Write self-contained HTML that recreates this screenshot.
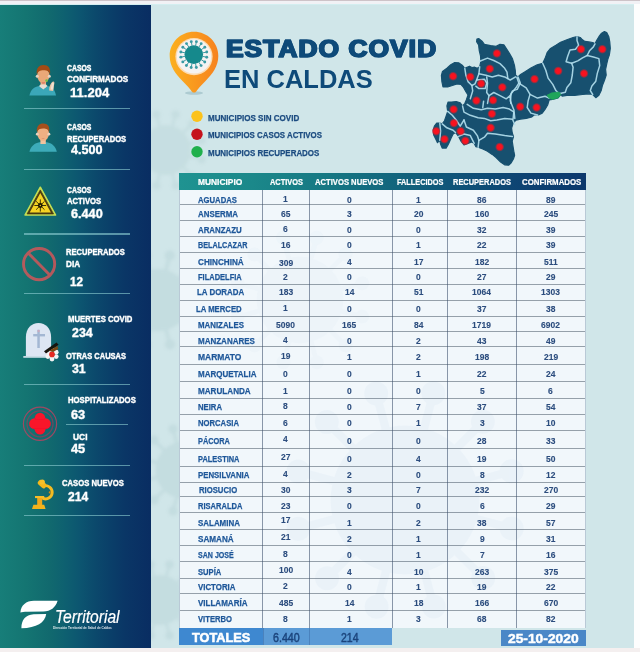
<!DOCTYPE html>
<html><head><meta charset="utf-8"><title>Estado COVID en Caldas</title>
<style>
html,body{margin:0;padding:0}
body{width:640px;height:652px;position:relative;overflow:hidden;background:#fdfdfd;font-family:"Liberation Sans",sans-serif;}
.a{position:absolute}
.t{position:absolute;white-space:nowrap;line-height:1;font-weight:700;transform-origin:0 0;}
svg{position:absolute;overflow:visible}
</style></head><body>
<div class="a" style="left:0.00px;top:0.00px;width:640.00px;height:1.00px;background:#cdc3c8;"></div>
<div class="a" style="left:0.00px;top:1.00px;width:640.00px;height:3.00px;background:#f1f1f5;"></div>
<div class="a" style="left:0.00px;top:4.00px;width:633.50px;height:1.00px;background:#d3eef0;"></div>
<div class="a" style="left:150.50px;top:5.00px;width:483.20px;height:642.60px;background:#d0e6e9;"></div>
<svg style="left:0;top:0" width="640" height="652" viewBox="0 0 640 652"><defs><filter id="b3"><feGaussianBlur stdDeviation="1.5"/></filter><clipPath id="mg"><rect x="150.6" y="5" width="483" height="642.6"/></clipPath></defs><g clip-path="url(#mg)" filter="url(#b3)"><g fill="#a5c4c9" stroke="#a5c4c9" opacity="0.22"><circle cx="166" cy="150" r="24.8" stroke="none"/><line x1="189.2" y1="156.2" x2="201.6" y2="159.5" stroke-width="2.8"/><circle cx="201.6" cy="159.5" r="4.0" stroke="none"/><line x1="183.0" y1="166.9" x2="192.1" y2="176.0" stroke-width="2.8"/><circle cx="192.1" cy="176.0" r="4.0" stroke="none"/><line x1="172.3" y1="173.2" x2="175.6" y2="185.5" stroke-width="2.8"/><circle cx="175.6" cy="185.5" r="4.0" stroke="none"/><line x1="159.8" y1="173.2" x2="156.5" y2="185.6" stroke-width="2.8"/><circle cx="156.5" cy="185.6" r="4.0" stroke="none"/><line x1="149.1" y1="167.0" x2="140.0" y2="176.1" stroke-width="2.8"/><circle cx="140.0" cy="176.1" r="4.0" stroke="none"/><line x1="142.8" y1="156.3" x2="130.5" y2="159.6" stroke-width="2.8"/><circle cx="130.5" cy="159.6" r="4.0" stroke="none"/><line x1="142.8" y1="143.8" x2="130.4" y2="140.5" stroke-width="2.8"/><circle cx="130.4" cy="140.5" r="4.0" stroke="none"/><line x1="149.0" y1="133.1" x2="139.9" y2="124.0" stroke-width="2.8"/><circle cx="139.9" cy="124.0" r="4.0" stroke="none"/><line x1="159.7" y1="126.8" x2="156.4" y2="114.5" stroke-width="2.8"/><circle cx="156.4" cy="114.5" r="4.0" stroke="none"/><line x1="172.2" y1="126.8" x2="175.5" y2="114.4" stroke-width="2.8"/><circle cx="175.5" cy="114.4" r="4.0" stroke="none"/><line x1="182.9" y1="133.0" x2="192.0" y2="123.9" stroke-width="2.8"/><circle cx="192.0" cy="123.9" r="4.0" stroke="none"/><line x1="189.2" y1="143.7" x2="201.5" y2="140.4" stroke-width="2.8"/><circle cx="201.5" cy="140.4" r="4.0" stroke="none"/></g><g fill="#a5c4c9" stroke="#a5c4c9" opacity="0.28"><circle cx="158" cy="300" r="31.0" stroke="none"/><line x1="187.0" y1="307.7" x2="202.5" y2="311.8" stroke-width="3.5"/><circle cx="202.5" cy="311.8" r="5.0" stroke="none"/><line x1="179.3" y1="321.2" x2="190.6" y2="332.5" stroke-width="3.5"/><circle cx="190.6" cy="332.5" r="5.0" stroke="none"/><line x1="165.8" y1="329.0" x2="170.0" y2="344.4" stroke-width="3.5"/><circle cx="170.0" cy="344.4" r="5.0" stroke="none"/><line x1="150.3" y1="329.0" x2="146.2" y2="344.5" stroke-width="3.5"/><circle cx="146.2" cy="344.5" r="5.0" stroke="none"/><line x1="136.8" y1="321.3" x2="125.5" y2="332.6" stroke-width="3.5"/><circle cx="125.5" cy="332.6" r="5.0" stroke="none"/><line x1="129.0" y1="307.8" x2="113.6" y2="312.0" stroke-width="3.5"/><circle cx="113.6" cy="312.0" r="5.0" stroke="none"/><line x1="129.0" y1="292.3" x2="113.5" y2="288.2" stroke-width="3.5"/><circle cx="113.5" cy="288.2" r="5.0" stroke="none"/><line x1="136.7" y1="278.8" x2="125.4" y2="267.5" stroke-width="3.5"/><circle cx="125.4" cy="267.5" r="5.0" stroke="none"/><line x1="150.2" y1="271.0" x2="146.0" y2="255.6" stroke-width="3.5"/><circle cx="146.0" cy="255.6" r="5.0" stroke="none"/><line x1="165.7" y1="271.0" x2="169.8" y2="255.5" stroke-width="3.5"/><circle cx="169.8" cy="255.5" r="5.0" stroke="none"/><line x1="179.2" y1="278.7" x2="190.5" y2="267.4" stroke-width="3.5"/><circle cx="190.5" cy="267.4" r="5.0" stroke="none"/><line x1="187.0" y1="292.2" x2="202.4" y2="288.0" stroke-width="3.5"/><circle cx="202.4" cy="288.0" r="5.0" stroke="none"/></g><g fill="#a5c4c9" stroke="#a5c4c9" opacity="0.28"><circle cx="184" cy="470" r="28.5" stroke="none"/><line x1="210.7" y1="477.1" x2="224.9" y2="480.9" stroke-width="3.2"/><circle cx="224.9" cy="480.9" r="4.6" stroke="none"/><line x1="203.6" y1="489.5" x2="214.0" y2="499.9" stroke-width="3.2"/><circle cx="214.0" cy="499.9" r="4.6" stroke="none"/><line x1="191.2" y1="496.6" x2="195.0" y2="510.9" stroke-width="3.2"/><circle cx="195.0" cy="510.9" r="4.6" stroke="none"/><line x1="176.9" y1="496.7" x2="173.1" y2="510.9" stroke-width="3.2"/><circle cx="173.1" cy="510.9" r="4.6" stroke="none"/><line x1="164.5" y1="489.6" x2="154.1" y2="500.0" stroke-width="3.2"/><circle cx="154.1" cy="500.0" r="4.6" stroke="none"/><line x1="157.4" y1="477.2" x2="143.1" y2="481.0" stroke-width="3.2"/><circle cx="143.1" cy="481.0" r="4.6" stroke="none"/><line x1="157.3" y1="462.9" x2="143.1" y2="459.1" stroke-width="3.2"/><circle cx="143.1" cy="459.1" r="4.6" stroke="none"/><line x1="164.4" y1="450.5" x2="154.0" y2="440.1" stroke-width="3.2"/><circle cx="154.0" cy="440.1" r="4.6" stroke="none"/><line x1="176.8" y1="443.4" x2="173.0" y2="429.1" stroke-width="3.2"/><circle cx="173.0" cy="429.1" r="4.6" stroke="none"/><line x1="191.1" y1="443.3" x2="194.9" y2="429.1" stroke-width="3.2"/><circle cx="194.9" cy="429.1" r="4.6" stroke="none"/><line x1="203.5" y1="450.4" x2="213.9" y2="440.0" stroke-width="3.2"/><circle cx="213.9" cy="440.0" r="4.6" stroke="none"/><line x1="210.6" y1="462.8" x2="224.9" y2="459.0" stroke-width="3.2"/><circle cx="224.9" cy="459.0" r="4.6" stroke="none"/></g><g fill="#a5c4c9" stroke="#a5c4c9" opacity="0.28"><circle cx="160" cy="600" r="24.8" stroke="none"/><line x1="183.2" y1="606.2" x2="195.6" y2="609.5" stroke-width="2.8"/><circle cx="195.6" cy="609.5" r="4.0" stroke="none"/><line x1="177.0" y1="616.9" x2="186.1" y2="626.0" stroke-width="2.8"/><circle cx="186.1" cy="626.0" r="4.0" stroke="none"/><line x1="166.3" y1="623.2" x2="169.6" y2="635.5" stroke-width="2.8"/><circle cx="169.6" cy="635.5" r="4.0" stroke="none"/><line x1="153.8" y1="623.2" x2="150.5" y2="635.6" stroke-width="2.8"/><circle cx="150.5" cy="635.6" r="4.0" stroke="none"/><line x1="143.1" y1="617.0" x2="134.0" y2="626.1" stroke-width="2.8"/><circle cx="134.0" cy="626.1" r="4.0" stroke="none"/><line x1="136.8" y1="606.3" x2="124.5" y2="609.6" stroke-width="2.8"/><circle cx="124.5" cy="609.6" r="4.0" stroke="none"/><line x1="136.8" y1="593.8" x2="124.4" y2="590.5" stroke-width="2.8"/><circle cx="124.4" cy="590.5" r="4.0" stroke="none"/><line x1="143.0" y1="583.1" x2="133.9" y2="574.0" stroke-width="2.8"/><circle cx="133.9" cy="574.0" r="4.0" stroke="none"/><line x1="153.7" y1="576.8" x2="150.4" y2="564.5" stroke-width="2.8"/><circle cx="150.4" cy="564.5" r="4.0" stroke="none"/><line x1="166.2" y1="576.8" x2="169.5" y2="564.4" stroke-width="2.8"/><circle cx="169.5" cy="564.4" r="4.0" stroke="none"/><line x1="176.9" y1="583.0" x2="186.0" y2="573.9" stroke-width="2.8"/><circle cx="186.0" cy="573.9" r="4.0" stroke="none"/><line x1="183.2" y1="593.7" x2="195.5" y2="590.4" stroke-width="2.8"/><circle cx="195.5" cy="590.4" r="4.0" stroke="none"/></g></g></svg>
<div class="a" style="left:0.00px;top:647.60px;width:640.00px;height:4.40px;background:#f4efef;"></div>
<div class="a" style="left:0.00px;top:5.00px;width:150.60px;height:642.60px;background:linear-gradient(90deg,#177e79 0%,#147572 17%,#11696e 33%,#0e6070 43%,#0c5570 53%,#0b496c 63%,#0a3f69 73%,#0a3666 83%,#092d62 100%);"></div>
<div class="a" style="left:24.00px;top:108.10px;width:106.00px;height:1.40px;background:rgba(140,205,210,0.62);"></div>
<div class="a" style="left:24.00px;top:168.50px;width:106.00px;height:1.40px;background:rgba(140,205,210,0.62);"></div>
<div class="a" style="left:24.00px;top:233.30px;width:106.00px;height:1.40px;background:rgba(140,205,210,0.62);"></div>
<div class="a" style="left:24.00px;top:293.00px;width:106.00px;height:1.40px;background:rgba(140,205,210,0.62);"></div>
<div class="a" style="left:24.00px;top:383.80px;width:106.00px;height:1.40px;background:rgba(140,205,210,0.62);"></div>
<div class="a" style="left:24.00px;top:464.70px;width:106.00px;height:1.40px;background:rgba(140,205,210,0.62);"></div>
<div class="a" style="left:24.00px;top:514.70px;width:106.00px;height:1.40px;background:rgba(140,205,210,0.62);"></div>
<div class="a" style="left:65.50px;top:423.70px;width:62.50px;height:1.20px;background:rgba(140,205,210,0.62);"></div>
<span class="t" style="left:66.80px;top:64.00px;font-size:8.84px;color:#ffffff;transform:scaleX(0.7764);-webkit-text-stroke:0.3px #fff;text-shadow:0 0 1.5px rgba(255,255,255,0.35);">CASOS</span>
<span class="t" style="left:66.80px;top:75.00px;font-size:8.70px;color:#ffffff;transform:scaleX(0.9316);-webkit-text-stroke:0.3px #fff;text-shadow:0 0 1.5px rgba(255,255,255,0.35);">CONFIRMADOS</span>
<span class="t" style="left:69.50px;top:86.00px;font-size:13.04px;color:#ffffff;transform:scaleX(1.0027);-webkit-text-stroke:0.3px #fff;text-shadow:0 0 1.5px rgba(255,255,255,0.35);">11.204</span>
<span class="t" style="left:66.80px;top:123.00px;font-size:8.70px;color:#ffffff;transform:scaleX(0.7893);-webkit-text-stroke:0.3px #fff;text-shadow:0 0 1.5px rgba(255,255,255,0.35);">CASOS</span>
<span class="t" style="left:66.80px;top:135.00px;font-size:8.70px;color:#ffffff;transform:scaleX(0.8751);-webkit-text-stroke:0.3px #fff;text-shadow:0 0 1.5px rgba(255,255,255,0.35);">RECUPERADOS</span>
<span class="t" style="left:70.80px;top:144.00px;font-size:12.75px;color:#ffffff;transform:scaleX(0.9922);-webkit-text-stroke:0.3px #fff;text-shadow:0 0 1.5px rgba(255,255,255,0.35);">4.500</span>
<span class="t" style="left:66.80px;top:186.00px;font-size:8.70px;color:#ffffff;transform:scaleX(0.7893);-webkit-text-stroke:0.3px #fff;text-shadow:0 0 1.5px rgba(255,255,255,0.35);">CASOS</span>
<span class="t" style="left:66.80px;top:197.00px;font-size:8.99px;color:#ffffff;transform:scaleX(0.8563);-webkit-text-stroke:0.3px #fff;text-shadow:0 0 1.5px rgba(255,255,255,0.35);">ACTIVOS</span>
<span class="t" style="left:70.80px;top:208.00px;font-size:12.61px;color:#ffffff;transform:scaleX(1.0036);-webkit-text-stroke:0.3px #fff;text-shadow:0 0 1.5px rgba(255,255,255,0.35);">6.440</span>
<span class="t" style="left:65.50px;top:248.00px;font-size:8.99px;color:#ffffff;transform:scaleX(0.8411);-webkit-text-stroke:0.3px #fff;text-shadow:0 0 1.5px rgba(255,255,255,0.35);">RECUPERADOS</span>
<span class="t" style="left:65.50px;top:260.00px;font-size:8.99px;color:#ffffff;transform:scaleX(0.9059);-webkit-text-stroke:0.3px #fff;text-shadow:0 0 1.5px rgba(255,255,255,0.35);">DIA</span>
<span class="t" style="left:69.50px;top:276.00px;font-size:12.75px;color:#ffffff;transform:scaleX(0.9183);-webkit-text-stroke:0.3px #fff;text-shadow:0 0 1.5px rgba(255,255,255,0.35);">12</span>
<span class="t" style="left:68.00px;top:315.00px;font-size:9.28px;color:#ffffff;transform:scaleX(0.8343);-webkit-text-stroke:0.3px #fff;text-shadow:0 0 1.5px rgba(255,255,255,0.35);">MUERTES COVID</span>
<span class="t" style="left:71.80px;top:326.00px;font-size:13.04px;color:#ffffff;transform:scaleX(0.9503);-webkit-text-stroke:0.3px #fff;text-shadow:0 0 1.5px rgba(255,255,255,0.35);">234</span>
<span class="t" style="left:65.50px;top:352.00px;font-size:8.99px;color:#ffffff;transform:scaleX(0.8347);-webkit-text-stroke:0.3px #fff;text-shadow:0 0 1.5px rgba(255,255,255,0.35);">OTRAS CAUSAS</span>
<span class="t" style="left:71.80px;top:363.00px;font-size:12.75px;color:#ffffff;transform:scaleX(0.9678);-webkit-text-stroke:0.3px #fff;text-shadow:0 0 1.5px rgba(255,255,255,0.35);">31</span>
<span class="t" style="left:68.00px;top:396.00px;font-size:8.99px;color:#ffffff;transform:scaleX(0.8614);-webkit-text-stroke:0.3px #fff;text-shadow:0 0 1.5px rgba(255,255,255,0.35);">HOSPITALIZADOS</span>
<span class="t" style="left:70.80px;top:409.00px;font-size:12.90px;color:#ffffff;transform:scaleX(0.9918);-webkit-text-stroke:0.3px #fff;text-shadow:0 0 1.5px rgba(255,255,255,0.35);">63</span>
<span class="t" style="left:72.50px;top:433.00px;font-size:8.99px;color:#ffffff;transform:scaleX(0.9382);-webkit-text-stroke:0.3px #fff;text-shadow:0 0 1.5px rgba(255,255,255,0.35);">UCI</span>
<span class="t" style="left:70.80px;top:443.00px;font-size:12.75px;color:#ffffff;transform:scaleX(1.0031);-webkit-text-stroke:0.3px #fff;text-shadow:0 0 1.5px rgba(255,255,255,0.35);">45</span>
<span class="t" style="left:61.80px;top:479.00px;font-size:9.13px;color:#ffffff;transform:scaleX(0.8403);-webkit-text-stroke:0.3px #fff;text-shadow:0 0 1.5px rgba(255,255,255,0.35);">CASOS NUEVOS</span>
<span class="t" style="left:68.30px;top:491.00px;font-size:12.61px;color:#ffffff;transform:scaleX(0.9593);-webkit-text-stroke:0.3px #fff;text-shadow:0 0 1.5px rgba(255,255,255,0.35);">214</span>
<svg style="left:0;top:0" width="640" height="652" viewBox="0 0 640 652">
<defs>
<filter id="ib"><feGaussianBlur stdDeviation="0.45"/></filter>
<filter id="ib2"><feGaussianBlur stdDeviation="0.8"/></filter>
</defs>
<!-- person 1 (confirmed, raised hand) -->
<g filter="url(#ib)">
<path d="M29.4 95.6 C30.5 89.5 34.5 86.8 39 86 L47.5 86 C52 86.8 55 89.5 56 95.6 Z" fill="#3aa7b8"/>
<rect x="40.6" y="80.5" width="5.4" height="7" fill="#eab08a"/>
<path d="M39 86 L43.3 89.5 L47.5 86 L46 84.5 L40.6 84.5 Z" fill="#e9ddd2"/>
<ellipse cx="43.3" cy="75.6" rx="6.1" ry="7.6" fill="#eaa878"/>
<circle cx="37.3" cy="76.3" r="1.5" fill="#e7d3c2"/><circle cx="49.3" cy="76.3" r="1.5" fill="#e7d3c2"/>
<path d="M36.8 74.5 C36 67.5 39.5 64.8 43.6 64.9 C48.2 65 51 67.8 50 74.5 C49 71.3 47.5 70.2 43.5 70.2 C39.8 70.2 38 71.3 36.8 74.5 Z" fill="#a24c12"/>
<path d="M41.5 82.4 C42.5 84 44.3 84 45.2 82.4 Z" fill="#d9655a"/>
<circle cx="46.6" cy="80.6" r="1.3" fill="#6fbf4a"/>
<path d="M49.2 90.5 C49 86.5 50.5 83.2 52.6 81.8 C54 81 54.8 82.4 54.2 84.2 C53.6 86.3 53.8 88.6 53 91 Z" fill="#e8c3a5"/>
<path d="M51.9 82.6 L53.9 83.1 L53.2 89.5 L50.8 89.5 Z" fill="#f3e7dc" opacity="0.8"/>
</g>
<!-- person 2 (recovered) -->
<g filter="url(#ib)">
<path d="M29.4 151.8 C30.6 146 35 143 39.4 142.2 L47 142.2 C51.5 143 55.6 146 56.8 151.8 Z" fill="#3cabb9"/>
<rect x="40.4" y="138" width="5.4" height="6" fill="#efc39e"/>
<ellipse cx="43.1" cy="133.4" rx="5.9" ry="7.4" fill="#eeb083"/>
<circle cx="37.3" cy="134.2" r="1.4" fill="#ead2bf"/><circle cx="48.9" cy="134.2" r="1.4" fill="#ead2bf"/>
<path d="M36.9 132.2 C36.2 126 39.6 123.5 43.4 123.6 C47.6 123.7 50 126.2 49.1 132.2 C48 129.2 46.8 128.5 43.2 128.5 C39.8 128.5 38 129.3 36.9 132.2 Z" fill="#a5501a"/>
<path d="M41.3 138 C42.3 139 44 139 45 138 Z" fill="#d98a68"/>
</g>
<!-- hazard triangle -->
<g>
<path d="M40.3 187.2 L55.6 215.1 L25 215.1 Z" fill="#c6de52" stroke="#c6de52" stroke-width="1.5" stroke-linejoin="round" filter="url(#ib)"/>
<path d="M40.3 189.9 L53.5 213.9 L27.1 213.9 Z" fill="#4a3a10" stroke="#4a3a10" stroke-width="0.8" stroke-linejoin="round"/>
<path d="M40.3 193 L50.9 212.5 L29.7 212.5 Z" fill="#f6d322"/>
<g stroke="#2a2208" stroke-width="0.9" filter="url(#ib)">
<line x1="40.3" y1="199.4" x2="40.3" y2="211.6"/><line x1="34.4" y1="205.5" x2="46.2" y2="205.5"/>
<line x1="36.1" y1="201.3" x2="44.5" y2="209.7"/><line x1="44.5" y1="201.3" x2="36.1" y2="209.7"/>
<circle cx="40.3" cy="205.5" r="2.4" fill="#1c1606" stroke="none"/>
</g>
<circle cx="40.3" cy="205.5" r="0.7" fill="#e8c828"/>
</g>
<!-- prohibition -->
<g filter="url(#ib)" opacity="0.8">
<circle cx="39.1" cy="264.1" r="15.6" fill="none" stroke="#dd5558" stroke-width="2.9"/>
<line x1="28.2" y1="253" x2="50" y2="275.2" stroke="#dd5558" stroke-width="2.9"/>
</g>
<!-- tombstone -->
<g filter="url(#ib)">
<path d="M25.9 356.6 L25.9 337 C25.9 328.5 31.5 323 38.5 323 C45.5 323 51.1 328.5 51.1 337 L51.1 356.6 Z" fill="#dde6f3"/>
<rect x="23.3" y="356" width="25" height="1.8" fill="#c9dde6"/>
<rect x="37.3" y="329.8" width="2.5" height="18.2" fill="#a3b7d3"/>
<rect x="33.2" y="334" width="11.8" height="2.4" fill="#a3b7d3"/>
<circle cx="38.6" cy="331" r="1.2" fill="#d5a5b8" opacity="0.7"/>
<g fill="#f4f4f4">
<circle cx="52" cy="349.8" r="2.4"/><circle cx="56.2" cy="352.2" r="2.4"/><circle cx="56.2" cy="356.6" r="2.4"/><circle cx="52" cy="359" r="2.4"/><circle cx="47.9" cy="356.6" r="2.4"/><circle cx="47.9" cy="352.2" r="2.4"/>
</g>
<circle cx="52" cy="354.4" r="2.8" fill="#e62a22"/>
<path d="M44 351.2 L56.5 342.6 L58.6 344.8 L46 353.6 Z" fill="#161210"/>
<path d="M49 350.8 L57.5 346 L58.2 349 L53 352 Z" fill="#7a4a18"/>
</g>
<!-- red cross -->
<g>
<circle cx="40" cy="423.8" r="16.6" fill="none" stroke="#c0405f" stroke-width="1.2" opacity="0.8" filter="url(#ib)"/>
<circle cx="40" cy="423.8" r="13" fill="none" stroke="#a83558" stroke-width="1.3" opacity="0.6" filter="url(#ib)"/>
<g fill="#f8122c" filter="url(#ib)">
<circle cx="40" cy="418.2" r="5.4"/><circle cx="40" cy="429.2" r="5.4"/><circle cx="34.5" cy="423.7" r="5.4"/><circle cx="45.5" cy="423.7" r="5.4"/>
<rect x="35.5" y="419.2" width="9" height="9"/>
</g>
</g>
<!-- microscope -->
<g filter="url(#ib)" fill="#f3b71a">
<path d="M43.6 486 A6.6 6.6 0 1 1 43.1 498.4" fill="none" stroke="#f4bb22" stroke-width="2.9" stroke-linecap="round"/>
<rect x="37.4" y="481.3" width="9.4" height="5.6" rx="2.2" transform="rotate(42 42.1 484.1)" fill="#f3b71a"/>
<circle cx="42.3" cy="482" r="2.6" fill="#f5c02c"/>
<rect x="37.2" y="496.8" width="5" height="9" fill="#f0a81c"/>
<rect x="35" y="496" width="9.2" height="2.1" fill="#f5bd2a"/>
<path d="M32 509 L33.4 504.8 L44.2 504.8 L45.6 509 Z" fill="#f2b31c"/>
<circle cx="49.8" cy="492.4" r="1.1" fill="#c98a12"/>
</g>
<!-- Territorial logo -->
<g fill="#ffffff" filter="url(#ib)">
<path d="M20.4 612.4 C21 605.4 26 600.8 34 600.8 L57.6 600.8 C55.6 607.6 50.6 611.4 43.4 611.6 L27.4 611.8 C24 611.9 21.8 612.1 20.4 612.4 Z"/>
<path d="M21.4 628.2 C21.2 620 25.6 614.6 33.6 614.2 L46.2 614 C45 622.4 36.8 628 21.4 628.2 Z"/>
</g>
</svg>
<span class="t" style="left:54.60px;top:608.00px;font-size:18.55px;color:#ffffff;transform:scaleX(0.8433);font-weight:400;font-style:italic;-webkit-text-stroke:0.2px #fff;">Territorial</span>
<span class="t" style="left:52.80px;top:627.00px;font-size:3.10px;color:rgba(255,255,255,0.85);transform:scaleX(1.0049);">Dirección Territorial de Salud de Caldas</span>
<svg style="left:0;top:0" width="640" height="652" viewBox="0 0 640 652">
<defs>
<linearGradient id="pg" x1="0" y1="0" x2="1" y2="0"><stop offset="0" stop-color="#fbb01f"/><stop offset="0.55" stop-color="#f9971f"/><stop offset="1" stop-color="#f6821f"/></linearGradient>
<radialGradient id="rd"><stop offset="0" stop-color="#ff1020"/><stop offset="0.55" stop-color="#f4141f"/><stop offset="1" stop-color="#f4141f" stop-opacity="0"/></radialGradient>
<filter id="b1"><feGaussianBlur stdDeviation="0.6"/></filter>
<filter id="b2"><feGaussianBlur stdDeviation="1.2"/></filter>
</defs>
<ellipse cx="194" cy="93" rx="9" ry="1.8" fill="#9fbfc6" opacity="0.7" filter="url(#b1)"/>
<path d="M194 31.8 C207.5 31.8 218.3 42.6 218.3 56 C218.3 66 212.5 74 205.5 81 C201 85.5 197.8 89.3 196.2 91.4 Q194 93.8 191.8 91.4 C190.2 89.3 187 85.5 182.5 81 C175.5 74 169.7 66 169.7 56 C169.7 42.6 180.5 31.8 194 31.8 Z" fill="url(#pg)"/>
<circle cx="194" cy="56.6" r="18.6" fill="#fcdcb4"/>
<circle cx="194" cy="56.4" r="17.2" fill="#f5f3f2"/>
<g fill="#1f8f90">
<circle cx="193.8" cy="54.6" r="9.3" fill="#15898c"/>

<circle cx="206.74" cy="57.22" r="1.45" fill="#3a9aa3"/>
<line x1="202.13" y1="56.29" x2="206.74" y2="57.22" stroke="#3a9aa3" stroke-width="1.0"/>
<circle cx="204.75" cy="61.97" r="1.45" fill="#3a9aa3"/>
<line x1="200.85" y1="59.35" x2="204.75" y2="61.97" stroke="#3a9aa3" stroke-width="1.0"/>
<circle cx="201.09" cy="65.60" r="1.45" fill="#3a9aa3"/>
<line x1="198.50" y1="61.68" x2="201.09" y2="65.60" stroke="#3a9aa3" stroke-width="1.0"/>
<circle cx="196.33" cy="67.56" r="1.45" fill="#3a9aa3"/>
<line x1="195.43" y1="62.94" x2="196.33" y2="67.56" stroke="#3a9aa3" stroke-width="1.0"/>
<circle cx="191.18" cy="67.54" r="1.45" fill="#3a9aa3"/>
<line x1="192.11" y1="62.93" x2="191.18" y2="67.54" stroke="#3a9aa3" stroke-width="1.0"/>
<circle cx="186.43" cy="65.55" r="1.45" fill="#3a9aa3"/>
<line x1="189.05" y1="61.65" x2="186.43" y2="65.55" stroke="#3a9aa3" stroke-width="1.0"/>
<circle cx="182.80" cy="61.89" r="1.45" fill="#3a9aa3"/>
<line x1="186.72" y1="59.30" x2="182.80" y2="61.89" stroke="#3a9aa3" stroke-width="1.0"/>
<circle cx="180.84" cy="57.13" r="1.45" fill="#3a9aa3"/>
<line x1="185.46" y1="56.23" x2="180.84" y2="57.13" stroke="#3a9aa3" stroke-width="1.0"/>
<circle cx="180.86" cy="51.98" r="1.45" fill="#3a9aa3"/>
<line x1="185.47" y1="52.91" x2="180.86" y2="51.98" stroke="#3a9aa3" stroke-width="1.0"/>
<circle cx="182.85" cy="47.23" r="1.45" fill="#3a9aa3"/>
<line x1="186.75" y1="49.85" x2="182.85" y2="47.23" stroke="#3a9aa3" stroke-width="1.0"/>
<circle cx="186.51" cy="43.60" r="1.45" fill="#3a9aa3"/>
<line x1="189.10" y1="47.52" x2="186.51" y2="43.60" stroke="#3a9aa3" stroke-width="1.0"/>
<circle cx="191.27" cy="41.64" r="1.45" fill="#3a9aa3"/>
<line x1="192.17" y1="46.26" x2="191.27" y2="41.64" stroke="#3a9aa3" stroke-width="1.0"/>
<circle cx="196.42" cy="41.66" r="1.45" fill="#3a9aa3"/>
<line x1="195.49" y1="46.27" x2="196.42" y2="41.66" stroke="#3a9aa3" stroke-width="1.0"/>
<circle cx="201.17" cy="43.65" r="1.45" fill="#3a9aa3"/>
<line x1="198.55" y1="47.55" x2="201.17" y2="43.65" stroke="#3a9aa3" stroke-width="1.0"/>
<circle cx="204.80" cy="47.31" r="1.45" fill="#3a9aa3"/>
<line x1="200.88" y1="49.90" x2="204.80" y2="47.31" stroke="#3a9aa3" stroke-width="1.0"/>
<circle cx="206.76" cy="52.07" r="1.45" fill="#3a9aa3"/>
<line x1="202.14" y1="52.97" x2="206.76" y2="52.07" stroke="#3a9aa3" stroke-width="1.0"/>
</g></svg>
<span class="t" style="left:225.60px;top:38.00px;font-size:23.60px;color:#0e4a79;transform:scaleX(1.1125);letter-spacing:1.0px;-webkit-text-stroke:1.5px #0e4a79;paint-order:stroke fill;text-shadow:0.8px 0 0 #0e4a79,-0.8px 0 0 #0e4a79;">ESTADO COVID</span>
<span class="t" style="left:224.30px;top:67.00px;font-size:24.90px;color:#0e4a79;transform:scaleX(1.0248);">EN CALDAS</span>
<svg style="left:0;top:0" width="640" height="652" viewBox="0 0 640 652">
<circle cx="197" cy="116.3" r="5.7" fill="#fcc21b"/>
<circle cx="197" cy="134.3" r="5.7" fill="#c5121c"/>
<circle cx="197" cy="151.8" r="5.7" fill="#20b04c"/>
</svg>
<span class="t" style="left:208.00px;top:114.00px;font-size:8.99px;color:#1c4c80;transform:scaleX(0.8964);-webkit-text-stroke:0.25px #1c4c80;">MUNICIPIOS SIN COVID</span>
<span class="t" style="left:208.00px;top:131.00px;font-size:8.99px;color:#1c4c80;transform:scaleX(0.8771);-webkit-text-stroke:0.25px #1c4c80;">MUNICIPIOS CASOS ACTIVOS</span>
<span class="t" style="left:208.00px;top:149.00px;font-size:8.84px;color:#1c4c80;transform:scaleX(0.9009);-webkit-text-stroke:0.25px #1c4c80;">MUNICIPIOS RECUPERADOS</span>
<svg style="left:0;top:0" width="640" height="652" viewBox="0 0 640 652"><polygon points="476.9,39.1 478.9,38.6 482.0,41.2 484.4,44.4 490.6,45.6 496.1,46.4 500.0,44.4 503.9,44.8 507.0,49.5 509.4,53.4 512.5,58.9 514.4,65.2 515.3,70.6 515.6,75.3 518.0,76.9 520.6,74.5 524.7,71.9 530.9,68.0 537.2,64.8 542.7,63.3 545.0,58.6 547.3,52.3 550.5,48.4 555.9,45.3 560.6,42.2 566.9,39.8 573.1,37.5 577.0,36.7 580.2,37.5 582.5,39.8 584.8,41.4 588.8,41.9 592.7,42.5 595.0,43.8 596.6,40.6 598.9,36.7 601.2,33.6 604.4,31.6 606.7,32.5 608.8,36.7 609.8,42.2 610.3,48.4 609.4,54.7 607.8,59.4 606.7,64.1 605.6,69.5 606.2,75.0 604.4,80.5 602.5,85.2 601.2,90.6 598.9,95.3 595.8,97.7 592.7,94.5 588.8,93.8 582.5,94.5 574.7,95.3 566.9,95.3 562.2,96.1 560.9,94.4 558.1,97.8 552.5,99.4 549.1,100.0 547.8,104.7 545.0,109.4 542.2,113.1 538.4,115.0 534.7,114.6 531.9,116.9 526.2,118.4 520.6,119.1 515.9,120.2 513.1,123.4 511.6,128.1 512.2,132.8 513.5,136.6 512.2,141.2 513.1,146.9 514.0,152.5 514.6,155.2 513.4,159.0 511.2,162.8 508.6,165.2 504.6,164.8 500.6,162.0 496.1,157.5 492.2,154.4 487.5,151.2 482.8,148.9 478.1,147.3 475.8,146.6 474.2,143.4 471.9,141.9 468.0,143.4 464.0,145.0 460.9,141.1 458.6,136.4 455.5,132.5 453.1,134.1 450.8,138.8 448.4,144.2 446.1,148.1 442.2,148.1 440.6,144.2 439.8,140.3 437.5,142.7 435.6,138.8 433.6,134.8 433.1,130.2 434.4,126.2 436.7,123.1 439.8,123.1 442.2,123.9 444.5,120.8 446.1,116.1 447.7,111.4 446.9,105.9 448.1,102.0 451.6,102.0 456.2,101.6 460.2,102.8 462.5,105.9 464.8,103.6 466.4,99.7 468.0,95.0 465.9,91.7 463.3,87.0 460.9,84.4 457.0,83.9 452.3,85.5 447.7,87.0 443.0,87.0 441.9,81.6 441.4,75.3 442.5,71.4 446.9,68.3 450.8,64.7 454.7,62.5 458.6,62.8 462.2,65.2 464.8,68.3 466.4,67.5 469.5,66.2 471.9,67.5 474.7,67.2 477.3,68.3 479.7,66.7 480.9,61.2 480.5,55.8 479.2,50.3 478.6,44.8 476.6,41.7" fill="#17506f" stroke="#17506f" stroke-width="1.2" stroke-linejoin="round"/><polyline points="479.7,61.2 487.5,58.1 493.8,60.5 500.0,63.6 504.7,68.3 507.0,72.2 507.8,78.4" fill="none" stroke="#b4e0ee" stroke-width="1.5" stroke-linejoin="round" stroke-linecap="round" opacity="0.9"/><polyline points="479.7,66.7 478.9,73.8 485.9,75.3 492.2,76.9 498.4,75.3 504.7,76.9 510.2,80.0 515.6,76.9" fill="none" stroke="#b4e0ee" stroke-width="1.5" stroke-linejoin="round" stroke-linecap="round" opacity="0.9"/><polyline points="464.8,68.3 465.9,75.3 468.0,81.6 471.9,85.5 475.0,83.9 476.6,80.0 478.9,73.8" fill="none" stroke="#b4e0ee" stroke-width="1.5" stroke-linejoin="round" stroke-linecap="round" opacity="0.9"/><polyline points="476.6,80.0 484.4,79.2 486.7,83.1 485.2,88.6 478.9,88.6 475.8,86.2" fill="none" stroke="#b4e0ee" stroke-width="1.5" stroke-linejoin="round" stroke-linecap="round" opacity="0.9"/><polyline points="486.7,76.9 487.5,83.1 486.7,92.5 489.0,95.6 487.5,103.4" fill="none" stroke="#b4e0ee" stroke-width="1.5" stroke-linejoin="round" stroke-linecap="round" opacity="0.9"/><polyline points="489.0,95.6 493.8,92.5 500.0,95.6 506.2,98.8 510.2,95.6 510.9,103.4" fill="none" stroke="#b4e0ee" stroke-width="1.5" stroke-linejoin="round" stroke-linecap="round" opacity="0.9"/><polyline points="510.2,95.6 512.5,90.9 517.2,89.4 520.3,83.1 518.0,76.9" fill="none" stroke="#b4e0ee" stroke-width="1.5" stroke-linejoin="round" stroke-linecap="round" opacity="0.9"/><polyline points="471.9,85.5 472.7,90.9 470.3,98.8" fill="none" stroke="#b4e0ee" stroke-width="1.5" stroke-linejoin="round" stroke-linecap="round" opacity="0.9"/><polyline points="462.5,105.9 464.0,112.2 470.3,115.3 478.1,117.7 484.4,118.4 490.6,120.8 496.9,120.0 504.7,118.4 512.5,119.2 514.8,124.7" fill="none" stroke="#b4e0ee" stroke-width="1.5" stroke-linejoin="round" stroke-linecap="round" opacity="0.9"/><polyline points="467.2,104.4 473.4,108.3 481.2,109.8 487.5,108.3 495.3,109.1 503.1,107.5 509.4,109.1 514.1,112.2 514.8,118.4" fill="none" stroke="#b4e0ee" stroke-width="1.5" stroke-linejoin="round" stroke-linecap="round" opacity="0.9"/><polyline points="483.6,101.2 482.8,107.5" fill="none" stroke="#b4e0ee" stroke-width="1.5" stroke-linejoin="round" stroke-linecap="round" opacity="0.9"/><polyline points="464.0,120.0 466.4,127.0 473.4,130.2 477.3,135.6 478.9,140.3 478.1,147.3" fill="none" stroke="#b4e0ee" stroke-width="1.5" stroke-linejoin="round" stroke-linecap="round" opacity="0.9"/><polyline points="478.9,140.3 484.4,137.2 487.5,133.3 495.3,134.1 504.7,135.6 512.5,136.4" fill="none" stroke="#b4e0ee" stroke-width="1.5" stroke-linejoin="round" stroke-linecap="round" opacity="0.9"/><polyline points="447.7,111.4 452.3,115.3 456.2,120.0 460.2,126.2 464.0,120.0" fill="none" stroke="#b4e0ee" stroke-width="1.5" stroke-linejoin="round" stroke-linecap="round" opacity="0.9"/><polyline points="442.2,123.9 446.9,127.8 453.1,130.2 455.5,132.5" fill="none" stroke="#b4e0ee" stroke-width="1.5" stroke-linejoin="round" stroke-linecap="round" opacity="0.9"/><polyline points="439.8,123.1 440.6,131.0 439.8,140.3" fill="none" stroke="#b4e0ee" stroke-width="1.5" stroke-linejoin="round" stroke-linecap="round" opacity="0.9"/><polyline points="458.6,136.4 464.0,134.0 470.3,135.6 474.2,143.4" fill="none" stroke="#b4e0ee" stroke-width="1.5" stroke-linejoin="round" stroke-linecap="round" opacity="0.9"/><polyline points="542.7,63.3 545.8,70.3 548.1,78.1 552.8,84.4 555.9,90.6 559.0,93.8 565.3,92.2 566.9,87.5 570.8,82.8 572.3,75.0 573.1,67.2 571.6,63.3 566.1,61.7 567.7,56.2 570.0,50.0 575.5,49.2 578.6,45.3 577.0,40.6 577.0,36.7" fill="none" stroke="#b4e0ee" stroke-width="1.5" stroke-linejoin="round" stroke-linecap="round" opacity="0.9"/><polyline points="571.6,63.3 577.8,60.9 582.5,57.8 587.2,55.5 593.4,57.0 598.9,58.6 599.7,65.6 597.3,73.4 595.8,81.2 591.9,85.9 590.3,90.6 592.7,94.5" fill="none" stroke="#b4e0ee" stroke-width="1.5" stroke-linejoin="round" stroke-linecap="round" opacity="0.9"/><polyline points="587.2,55.5 589.5,50.8 593.4,46.9 595.0,43.8" fill="none" stroke="#b4e0ee" stroke-width="1.5" stroke-linejoin="round" stroke-linecap="round" opacity="0.9"/><polyline points="516.9,77.5 518.8,83.1 515.9,87.8 511.2,93.4 510.3,100.9 514.0,110.3 513.1,118.8" fill="none" stroke="#b4e0ee" stroke-width="1.5" stroke-linejoin="round" stroke-linecap="round" opacity="0.9"/><polyline points="518.8,83.1 526.2,87.8 530.0,94.4 528.1,100.9 527.2,107.5 530.9,113.1 537.5,115.0" fill="none" stroke="#b4e0ee" stroke-width="1.5" stroke-linejoin="round" stroke-linecap="round" opacity="0.9"/><polyline points="530.0,94.4 537.5,98.1 545.0,96.2 549.1,98.1" fill="none" stroke="#b4e0ee" stroke-width="1.5" stroke-linejoin="round" stroke-linecap="round" opacity="0.9"/><polygon points="546.9,95.3 551.6,92.9 559.1,92.1 560.9,94.4 558.1,97.8 552.5,99.4 549.1,98.1" fill="#1fa55a" stroke="#1fa55a" stroke-width="0.8"/><circle cx="496.9" cy="53.4" r="4.7" fill="url(#rd)"/><circle cx="489.8" cy="68.8" r="4.7" fill="url(#rd)"/><circle cx="453.1" cy="76.2" r="4.7" fill="url(#rd)"/><circle cx="470.3" cy="76.9" r="4.7" fill="url(#rd)"/><circle cx="481.2" cy="83.6" r="4.7" fill="url(#rd)"/><circle cx="502.3" cy="87.3" r="4.7" fill="url(#rd)"/><circle cx="476.4" cy="100.6" r="4.7" fill="url(#rd)"/><circle cx="493.0" cy="100.2" r="4.7" fill="url(#rd)"/><circle cx="453.6" cy="109.4" r="4.7" fill="url(#rd)"/><circle cx="491.9" cy="113.8" r="4.7" fill="url(#rd)"/><circle cx="453.9" cy="123.1" r="4.7" fill="url(#rd)"/><circle cx="490.6" cy="127.8" r="4.7" fill="url(#rd)"/><circle cx="460.6" cy="131.2" r="4.7" fill="url(#rd)"/><circle cx="436.2" cy="131.2" r="4.7" fill="url(#rd)"/><circle cx="444.5" cy="139.2" r="4.7" fill="url(#rd)"/><circle cx="465.3" cy="140.8" r="4.7" fill="url(#rd)"/><circle cx="499.7" cy="147.0" r="4.7" fill="url(#rd)"/><circle cx="520.2" cy="106.7" r="4.7" fill="url(#rd)"/><circle cx="536.6" cy="107.5" r="4.7" fill="url(#rd)"/><circle cx="534.5" cy="79.1" r="4.7" fill="url(#rd)"/><circle cx="558.2" cy="70.9" r="4.7" fill="url(#rd)"/><circle cx="581.0" cy="49.2" r="4.7" fill="url(#rd)"/><circle cx="602.3" cy="49.2" r="4.7" fill="url(#rd)"/><circle cx="584.0" cy="73.5" r="4.7" fill="url(#rd)"/></svg>
<div class="a" style="left:179.00px;top:189.80px;width:406.80px;height:437.80px;background:#f1f7fb;"></div>
<svg style="left:0;top:0" width="640" height="652" viewBox="0 0 640 652"><defs><clipPath id="tb"><rect x="179" y="190" width="406.8" height="437.6"/></clipPath></defs><g clip-path="url(#tb)"><g fill="#dde9f4" stroke="#dde9f4" opacity="0.32"><circle cx="405" cy="500" r="74.4" stroke="none"/><line x1="474.6" y1="518.5" x2="511.7" y2="528.4" stroke-width="8.4"/><circle cx="511.7" cy="528.4" r="12.0" stroke="none"/><line x1="456.0" y1="550.8" x2="483.2" y2="577.9" stroke-width="8.4"/><circle cx="483.2" cy="577.9" r="12.0" stroke="none"/><line x1="423.8" y1="569.5" x2="433.8" y2="606.6" stroke-width="8.4"/><circle cx="433.8" cy="606.6" r="12.0" stroke="none"/><line x1="386.5" y1="569.6" x2="376.6" y2="606.7" stroke-width="8.4"/><circle cx="376.6" cy="606.7" r="12.0" stroke="none"/><line x1="354.2" y1="551.0" x2="327.1" y2="578.2" stroke-width="8.4"/><circle cx="327.1" cy="578.2" r="12.0" stroke="none"/><line x1="335.5" y1="518.8" x2="298.4" y2="528.8" stroke-width="8.4"/><circle cx="298.4" cy="528.8" r="12.0" stroke="none"/><line x1="335.4" y1="481.5" x2="298.3" y2="471.6" stroke-width="8.4"/><circle cx="298.3" cy="471.6" r="12.0" stroke="none"/><line x1="354.0" y1="449.2" x2="326.8" y2="422.1" stroke-width="8.4"/><circle cx="326.8" cy="422.1" r="12.0" stroke="none"/><line x1="386.2" y1="430.5" x2="376.2" y2="393.4" stroke-width="8.4"/><circle cx="376.2" cy="393.4" r="12.0" stroke="none"/><line x1="423.5" y1="430.4" x2="433.4" y2="393.3" stroke-width="8.4"/><circle cx="433.4" cy="393.3" r="12.0" stroke="none"/><line x1="455.8" y1="449.0" x2="482.9" y2="421.8" stroke-width="8.4"/><circle cx="482.9" cy="421.8" r="12.0" stroke="none"/><line x1="474.5" y1="481.2" x2="511.6" y2="471.2" stroke-width="8.4"/><circle cx="511.6" cy="471.2" r="12.0" stroke="none"/></g><g fill="#e2edf6" stroke="#e2edf6" opacity="0.25"><circle cx="300" cy="300" r="43.4" stroke="none"/><line x1="340.6" y1="310.8" x2="362.2" y2="316.6" stroke-width="4.9"/><circle cx="362.2" cy="316.6" r="7.0" stroke="none"/><line x1="329.8" y1="329.6" x2="345.6" y2="345.5" stroke-width="4.9"/><circle cx="345.6" cy="345.5" r="7.0" stroke="none"/><line x1="310.9" y1="340.5" x2="316.8" y2="362.2" stroke-width="4.9"/><circle cx="316.8" cy="362.2" r="7.0" stroke="none"/><line x1="289.2" y1="340.6" x2="283.4" y2="362.2" stroke-width="4.9"/><circle cx="283.4" cy="362.2" r="7.0" stroke="none"/><line x1="270.4" y1="329.8" x2="254.5" y2="345.6" stroke-width="4.9"/><circle cx="254.5" cy="345.6" r="7.0" stroke="none"/><line x1="259.5" y1="310.9" x2="237.8" y2="316.8" stroke-width="4.9"/><circle cx="237.8" cy="316.8" r="7.0" stroke="none"/><line x1="259.4" y1="289.2" x2="237.8" y2="283.4" stroke-width="4.9"/><circle cx="237.8" cy="283.4" r="7.0" stroke="none"/><line x1="270.2" y1="270.4" x2="254.4" y2="254.5" stroke-width="4.9"/><circle cx="254.4" cy="254.5" r="7.0" stroke="none"/><line x1="289.1" y1="259.5" x2="283.2" y2="237.8" stroke-width="4.9"/><circle cx="283.2" cy="237.8" r="7.0" stroke="none"/><line x1="310.8" y1="259.4" x2="316.6" y2="237.8" stroke-width="4.9"/><circle cx="316.6" cy="237.8" r="7.0" stroke="none"/><line x1="329.6" y1="270.2" x2="345.5" y2="254.4" stroke-width="4.9"/><circle cx="345.5" cy="254.4" r="7.0" stroke="none"/><line x1="340.5" y1="289.1" x2="362.2" y2="283.2" stroke-width="4.9"/><circle cx="362.2" cy="283.2" r="7.0" stroke="none"/></g></g></svg>
<div class="a" style="left:179.00px;top:173.40px;width:406.80px;height:16.60px;background:linear-gradient(90deg,#1f9391 0%,#1b888a 18%,#167883 36%,#12647d 54%,#0f4f77 72%,#0d4071 88%,#0c386c 100%);"></div>
<div class="a" style="left:179.00px;top:204.00px;width:406.80px;height:1.00px;background:rgba(66,80,96,0.52);"></div>
<div class="a" style="left:179.00px;top:220.00px;width:406.80px;height:1.00px;background:rgba(66,80,96,0.52);"></div>
<div class="a" style="left:179.00px;top:236.00px;width:406.80px;height:1.00px;background:rgba(66,80,96,0.52);"></div>
<div class="a" style="left:179.00px;top:252.00px;width:406.80px;height:1.00px;background:rgba(66,80,96,0.52);"></div>
<div class="a" style="left:179.00px;top:268.00px;width:406.80px;height:1.00px;background:rgba(66,80,96,0.52);"></div>
<div class="a" style="left:179.00px;top:284.00px;width:406.80px;height:1.00px;background:rgba(66,80,96,0.52);"></div>
<div class="a" style="left:179.00px;top:300.00px;width:406.80px;height:1.00px;background:rgba(66,80,96,0.52);"></div>
<div class="a" style="left:179.00px;top:316.00px;width:406.80px;height:1.00px;background:rgba(66,80,96,0.52);"></div>
<div class="a" style="left:179.00px;top:331.00px;width:406.80px;height:1.00px;background:rgba(66,80,96,0.52);"></div>
<div class="a" style="left:179.00px;top:346.00px;width:406.80px;height:1.00px;background:rgba(66,80,96,0.52);"></div>
<div class="a" style="left:179.00px;top:364.00px;width:406.80px;height:1.00px;background:rgba(66,80,96,0.52);"></div>
<div class="a" style="left:179.00px;top:381.00px;width:406.80px;height:1.00px;background:rgba(66,80,96,0.52);"></div>
<div class="a" style="left:179.00px;top:398.00px;width:406.80px;height:1.00px;background:rgba(66,80,96,0.52);"></div>
<div class="a" style="left:179.00px;top:414.00px;width:406.80px;height:1.00px;background:rgba(66,80,96,0.52);"></div>
<div class="a" style="left:179.00px;top:430.00px;width:406.80px;height:1.00px;background:rgba(66,80,96,0.52);"></div>
<div class="a" style="left:179.00px;top:448.00px;width:406.80px;height:1.00px;background:rgba(66,80,96,0.52);"></div>
<div class="a" style="left:179.00px;top:466.00px;width:406.80px;height:1.00px;background:rgba(66,80,96,0.52);"></div>
<div class="a" style="left:179.00px;top:482.00px;width:406.80px;height:1.00px;background:rgba(66,80,96,0.52);"></div>
<div class="a" style="left:179.00px;top:496.00px;width:406.80px;height:1.00px;background:rgba(66,80,96,0.52);"></div>
<div class="a" style="left:179.00px;top:512.00px;width:406.80px;height:1.00px;background:rgba(66,80,96,0.52);"></div>
<div class="a" style="left:179.00px;top:529.00px;width:406.80px;height:1.00px;background:rgba(66,80,96,0.52);"></div>
<div class="a" style="left:179.00px;top:545.00px;width:406.80px;height:1.00px;background:rgba(66,80,96,0.52);"></div>
<div class="a" style="left:179.00px;top:561.00px;width:406.80px;height:1.00px;background:rgba(66,80,96,0.52);"></div>
<div class="a" style="left:179.00px;top:578.00px;width:406.80px;height:1.00px;background:rgba(66,80,96,0.52);"></div>
<div class="a" style="left:179.00px;top:593.00px;width:406.80px;height:1.00px;background:rgba(66,80,96,0.52);"></div>
<div class="a" style="left:179.00px;top:610.00px;width:406.80px;height:1.00px;background:rgba(66,80,96,0.52);"></div>
<div class="a" style="left:262.00px;top:189.80px;width:1.00px;height:437.80px;background:rgba(60,80,108,0.58);"></div>
<div class="a" style="left:309.00px;top:189.80px;width:1.00px;height:437.80px;background:rgba(60,80,108,0.58);"></div>
<div class="a" style="left:392.00px;top:189.80px;width:1.00px;height:437.80px;background:rgba(60,80,108,0.58);"></div>
<div class="a" style="left:447.00px;top:189.80px;width:1.00px;height:437.80px;background:rgba(60,80,108,0.58);"></div>
<div class="a" style="left:516.00px;top:189.80px;width:1.00px;height:437.80px;background:rgba(60,80,108,0.58);"></div>
<div class="a" style="left:178.70px;top:189.80px;width:0.80px;height:437.80px;background:#b9c9d6;"></div>
<div class="a" style="left:585.30px;top:189.80px;width:0.80px;height:437.80px;background:#b9c9d6;"></div>
<span class="t" style="left:198.00px;top:178.00px;font-size:8.41px;color:#ffffff;transform:scaleX(0.9981);-webkit-text-stroke:0.22px #fff;">MUNICIPIO</span>
<span class="t" style="left:269.50px;top:178.00px;font-size:8.41px;color:#ffffff;transform:scaleX(0.8805);-webkit-text-stroke:0.22px #fff;">ACTIVOS</span>
<span class="t" style="left:315.40px;top:178.00px;font-size:8.41px;color:#ffffff;transform:scaleX(0.9097);-webkit-text-stroke:0.22px #fff;">ACTIVOS NUEVOS</span>
<span class="t" style="left:397.00px;top:178.00px;font-size:8.41px;color:#ffffff;transform:scaleX(0.8713);-webkit-text-stroke:0.22px #fff;">FALLECIDOS</span>
<span class="t" style="left:452.80px;top:178.00px;font-size:8.41px;color:#ffffff;transform:scaleX(0.8854);-webkit-text-stroke:0.22px #fff;">RECUPERADOS</span>
<span class="t" style="left:521.60px;top:178.00px;font-size:8.41px;color:#ffffff;transform:scaleX(0.9338);-webkit-text-stroke:0.22px #fff;">CONFIRMADOS</span>
<span class="t" style="left:198.00px;top:196.00px;font-size:8.84px;color:#1e5799;transform:scaleX(0.8727);-webkit-text-stroke:0.25px #1e5799;">AGUADAS</span>
<span class="t" style="left:283.44px;top:195.00px;font-size:8.84px;color:#2c4d7e;transform:scaleX(0.9600);-webkit-text-stroke:0.12px #2c4d7e;">1</span>
<span class="t" style="left:347.04px;top:196.00px;font-size:8.84px;color:#2c4d7e;transform:scaleX(0.9600);-webkit-text-stroke:0.12px #2c4d7e;">0</span>
<span class="t" style="left:415.94px;top:196.00px;font-size:8.84px;color:#2c4d7e;transform:scaleX(0.9600);-webkit-text-stroke:0.12px #2c4d7e;">1</span>
<span class="t" style="left:477.19px;top:196.00px;font-size:8.84px;color:#2c4d7e;transform:scaleX(0.9600);-webkit-text-stroke:0.12px #2c4d7e;">86</span>
<span class="t" style="left:546.09px;top:196.00px;font-size:8.84px;color:#2c4d7e;transform:scaleX(0.9600);-webkit-text-stroke:0.12px #2c4d7e;">89</span>
<span class="t" style="left:198.00px;top:210.00px;font-size:8.84px;color:#1e5799;transform:scaleX(0.8951);-webkit-text-stroke:0.25px #1e5799;">ANSERMA</span>
<span class="t" style="left:281.09px;top:210.00px;font-size:8.84px;color:#2c4d7e;transform:scaleX(0.9600);-webkit-text-stroke:0.12px #2c4d7e;">65</span>
<span class="t" style="left:347.04px;top:210.00px;font-size:8.84px;color:#2c4d7e;transform:scaleX(0.9600);-webkit-text-stroke:0.12px #2c4d7e;">3</span>
<span class="t" style="left:413.59px;top:210.00px;font-size:8.84px;color:#2c4d7e;transform:scaleX(0.9600);-webkit-text-stroke:0.12px #2c4d7e;">20</span>
<span class="t" style="left:474.81px;top:210.00px;font-size:8.84px;color:#2c4d7e;transform:scaleX(0.9600);-webkit-text-stroke:0.12px #2c4d7e;">160</span>
<span class="t" style="left:543.71px;top:210.00px;font-size:8.84px;color:#2c4d7e;transform:scaleX(0.9600);-webkit-text-stroke:0.12px #2c4d7e;">245</span>
<span class="t" style="left:198.00px;top:226.00px;font-size:8.84px;color:#1e5799;transform:scaleX(0.8919);-webkit-text-stroke:0.25px #1e5799;">ARANZAZU</span>
<span class="t" style="left:283.44px;top:225.00px;font-size:8.84px;color:#2c4d7e;transform:scaleX(0.9600);-webkit-text-stroke:0.12px #2c4d7e;">6</span>
<span class="t" style="left:347.04px;top:226.00px;font-size:8.84px;color:#2c4d7e;transform:scaleX(0.9600);-webkit-text-stroke:0.12px #2c4d7e;">0</span>
<span class="t" style="left:415.94px;top:226.00px;font-size:8.84px;color:#2c4d7e;transform:scaleX(0.9600);-webkit-text-stroke:0.12px #2c4d7e;">0</span>
<span class="t" style="left:477.19px;top:226.00px;font-size:8.84px;color:#2c4d7e;transform:scaleX(0.9600);-webkit-text-stroke:0.12px #2c4d7e;">32</span>
<span class="t" style="left:546.09px;top:226.00px;font-size:8.84px;color:#2c4d7e;transform:scaleX(0.9600);-webkit-text-stroke:0.12px #2c4d7e;">39</span>
<span class="t" style="left:198.00px;top:241.00px;font-size:8.84px;color:#1e5799;transform:scaleX(0.8192);-webkit-text-stroke:0.25px #1e5799;">BELALCAZAR</span>
<span class="t" style="left:281.09px;top:241.00px;font-size:8.84px;color:#2c4d7e;transform:scaleX(0.9600);-webkit-text-stroke:0.12px #2c4d7e;">16</span>
<span class="t" style="left:347.04px;top:241.00px;font-size:8.84px;color:#2c4d7e;transform:scaleX(0.9600);-webkit-text-stroke:0.12px #2c4d7e;">0</span>
<span class="t" style="left:415.94px;top:241.00px;font-size:8.84px;color:#2c4d7e;transform:scaleX(0.9600);-webkit-text-stroke:0.12px #2c4d7e;">1</span>
<span class="t" style="left:477.19px;top:241.00px;font-size:8.84px;color:#2c4d7e;transform:scaleX(0.9600);-webkit-text-stroke:0.12px #2c4d7e;">22</span>
<span class="t" style="left:546.09px;top:241.00px;font-size:8.84px;color:#2c4d7e;transform:scaleX(0.9600);-webkit-text-stroke:0.12px #2c4d7e;">39</span>
<span class="t" style="left:198.00px;top:258.00px;font-size:8.84px;color:#1e5799;transform:scaleX(0.9235);-webkit-text-stroke:0.25px #1e5799;">CHINCHINÁ</span>
<span class="t" style="left:278.71px;top:259.00px;font-size:8.84px;color:#2c4d7e;transform:scaleX(0.9600);-webkit-text-stroke:0.12px #2c4d7e;">309</span>
<span class="t" style="left:347.04px;top:258.00px;font-size:8.84px;color:#2c4d7e;transform:scaleX(0.9600);-webkit-text-stroke:0.12px #2c4d7e;">4</span>
<span class="t" style="left:413.59px;top:258.00px;font-size:8.84px;color:#2c4d7e;transform:scaleX(0.9600);-webkit-text-stroke:0.12px #2c4d7e;">17</span>
<span class="t" style="left:474.81px;top:258.00px;font-size:8.84px;color:#2c4d7e;transform:scaleX(0.9600);-webkit-text-stroke:0.12px #2c4d7e;">182</span>
<span class="t" style="left:543.95px;top:258.00px;font-size:8.84px;color:#2c4d7e;transform:scaleX(0.9600);-webkit-text-stroke:0.12px #2c4d7e;">511</span>
<span class="t" style="left:198.00px;top:273.00px;font-size:8.84px;color:#1e5799;transform:scaleX(0.8491);-webkit-text-stroke:0.25px #1e5799;">FILADELFIA</span>
<span class="t" style="left:283.44px;top:273.00px;font-size:8.84px;color:#2c4d7e;transform:scaleX(0.9600);-webkit-text-stroke:0.12px #2c4d7e;">2</span>
<span class="t" style="left:347.04px;top:273.00px;font-size:8.84px;color:#2c4d7e;transform:scaleX(0.9600);-webkit-text-stroke:0.12px #2c4d7e;">0</span>
<span class="t" style="left:415.94px;top:273.00px;font-size:8.84px;color:#2c4d7e;transform:scaleX(0.9600);-webkit-text-stroke:0.12px #2c4d7e;">0</span>
<span class="t" style="left:477.19px;top:273.00px;font-size:8.84px;color:#2c4d7e;transform:scaleX(0.9600);-webkit-text-stroke:0.12px #2c4d7e;">27</span>
<span class="t" style="left:546.09px;top:273.00px;font-size:8.84px;color:#2c4d7e;transform:scaleX(0.9600);-webkit-text-stroke:0.12px #2c4d7e;">29</span>
<span class="t" style="left:196.80px;top:288.00px;font-size:8.84px;color:#1e5799;transform:scaleX(0.8951);-webkit-text-stroke:0.25px #1e5799;">LA DORADA</span>
<span class="t" style="left:278.71px;top:288.00px;font-size:8.84px;color:#2c4d7e;transform:scaleX(0.9600);-webkit-text-stroke:0.12px #2c4d7e;">183</span>
<span class="t" style="left:344.69px;top:288.00px;font-size:8.84px;color:#2c4d7e;transform:scaleX(0.9600);-webkit-text-stroke:0.12px #2c4d7e;">14</span>
<span class="t" style="left:413.59px;top:288.00px;font-size:8.84px;color:#2c4d7e;transform:scaleX(0.9600);-webkit-text-stroke:0.12px #2c4d7e;">51</span>
<span class="t" style="left:472.46px;top:288.00px;font-size:8.84px;color:#2c4d7e;transform:scaleX(0.9600);-webkit-text-stroke:0.12px #2c4d7e;">1064</span>
<span class="t" style="left:541.36px;top:288.00px;font-size:8.84px;color:#2c4d7e;transform:scaleX(0.9600);-webkit-text-stroke:0.12px #2c4d7e;">1303</span>
<span class="t" style="left:196.30px;top:305.00px;font-size:8.84px;color:#1e5799;transform:scaleX(0.8754);-webkit-text-stroke:0.25px #1e5799;">LA MERCED</span>
<span class="t" style="left:283.44px;top:304.00px;font-size:8.84px;color:#2c4d7e;transform:scaleX(0.9600);-webkit-text-stroke:0.12px #2c4d7e;">1</span>
<span class="t" style="left:347.04px;top:305.00px;font-size:8.84px;color:#2c4d7e;transform:scaleX(0.9600);-webkit-text-stroke:0.12px #2c4d7e;">0</span>
<span class="t" style="left:415.94px;top:305.00px;font-size:8.84px;color:#2c4d7e;transform:scaleX(0.9600);-webkit-text-stroke:0.12px #2c4d7e;">0</span>
<span class="t" style="left:477.19px;top:305.00px;font-size:8.84px;color:#2c4d7e;transform:scaleX(0.9600);-webkit-text-stroke:0.12px #2c4d7e;">37</span>
<span class="t" style="left:546.09px;top:305.00px;font-size:8.84px;color:#2c4d7e;transform:scaleX(0.9600);-webkit-text-stroke:0.12px #2c4d7e;">38</span>
<span class="t" style="left:198.00px;top:321.00px;font-size:8.84px;color:#1e5799;transform:scaleX(0.8917);-webkit-text-stroke:0.25px #1e5799;">MANIZALES</span>
<span class="t" style="left:276.36px;top:321.00px;font-size:8.84px;color:#2c4d7e;transform:scaleX(0.9600);-webkit-text-stroke:0.12px #2c4d7e;">5090</span>
<span class="t" style="left:342.31px;top:321.00px;font-size:8.84px;color:#2c4d7e;transform:scaleX(0.9600);-webkit-text-stroke:0.12px #2c4d7e;">165</span>
<span class="t" style="left:413.59px;top:321.00px;font-size:8.84px;color:#2c4d7e;transform:scaleX(0.9600);-webkit-text-stroke:0.12px #2c4d7e;">84</span>
<span class="t" style="left:472.46px;top:321.00px;font-size:8.84px;color:#2c4d7e;transform:scaleX(0.9600);-webkit-text-stroke:0.12px #2c4d7e;">1719</span>
<span class="t" style="left:541.36px;top:321.00px;font-size:8.84px;color:#2c4d7e;transform:scaleX(0.9600);-webkit-text-stroke:0.12px #2c4d7e;">6902</span>
<span class="t" style="left:198.00px;top:337.00px;font-size:8.84px;color:#1e5799;transform:scaleX(0.9068);-webkit-text-stroke:0.25px #1e5799;">MANZANARES</span>
<span class="t" style="left:283.44px;top:336.00px;font-size:8.84px;color:#2c4d7e;transform:scaleX(0.9600);-webkit-text-stroke:0.12px #2c4d7e;">4</span>
<span class="t" style="left:347.04px;top:337.00px;font-size:8.84px;color:#2c4d7e;transform:scaleX(0.9600);-webkit-text-stroke:0.12px #2c4d7e;">0</span>
<span class="t" style="left:415.94px;top:337.00px;font-size:8.84px;color:#2c4d7e;transform:scaleX(0.9600);-webkit-text-stroke:0.12px #2c4d7e;">2</span>
<span class="t" style="left:477.19px;top:337.00px;font-size:8.84px;color:#2c4d7e;transform:scaleX(0.9600);-webkit-text-stroke:0.12px #2c4d7e;">43</span>
<span class="t" style="left:546.09px;top:337.00px;font-size:8.84px;color:#2c4d7e;transform:scaleX(0.9600);-webkit-text-stroke:0.12px #2c4d7e;">49</span>
<span class="t" style="left:198.00px;top:353.00px;font-size:8.84px;color:#1e5799;transform:scaleX(0.9592);-webkit-text-stroke:0.25px #1e5799;">MARMATO</span>
<span class="t" style="left:281.09px;top:352.00px;font-size:8.84px;color:#2c4d7e;transform:scaleX(0.9600);-webkit-text-stroke:0.12px #2c4d7e;">19</span>
<span class="t" style="left:347.04px;top:353.00px;font-size:8.84px;color:#2c4d7e;transform:scaleX(0.9600);-webkit-text-stroke:0.12px #2c4d7e;">1</span>
<span class="t" style="left:415.94px;top:353.00px;font-size:8.84px;color:#2c4d7e;transform:scaleX(0.9600);-webkit-text-stroke:0.12px #2c4d7e;">2</span>
<span class="t" style="left:474.81px;top:353.00px;font-size:8.84px;color:#2c4d7e;transform:scaleX(0.9600);-webkit-text-stroke:0.12px #2c4d7e;">198</span>
<span class="t" style="left:543.71px;top:353.00px;font-size:8.84px;color:#2c4d7e;transform:scaleX(0.9600);-webkit-text-stroke:0.12px #2c4d7e;">219</span>
<span class="t" style="left:198.00px;top:370.00px;font-size:8.84px;color:#1e5799;transform:scaleX(0.9046);-webkit-text-stroke:0.25px #1e5799;">MARQUETALIA</span>
<span class="t" style="left:283.44px;top:370.00px;font-size:8.84px;color:#2c4d7e;transform:scaleX(0.9600);-webkit-text-stroke:0.12px #2c4d7e;">0</span>
<span class="t" style="left:347.04px;top:370.00px;font-size:8.84px;color:#2c4d7e;transform:scaleX(0.9600);-webkit-text-stroke:0.12px #2c4d7e;">0</span>
<span class="t" style="left:415.94px;top:370.00px;font-size:8.84px;color:#2c4d7e;transform:scaleX(0.9600);-webkit-text-stroke:0.12px #2c4d7e;">1</span>
<span class="t" style="left:477.19px;top:370.00px;font-size:8.84px;color:#2c4d7e;transform:scaleX(0.9600);-webkit-text-stroke:0.12px #2c4d7e;">22</span>
<span class="t" style="left:546.09px;top:370.00px;font-size:8.84px;color:#2c4d7e;transform:scaleX(0.9600);-webkit-text-stroke:0.12px #2c4d7e;">24</span>
<span class="t" style="left:198.00px;top:387.00px;font-size:8.84px;color:#1e5799;transform:scaleX(0.9188);-webkit-text-stroke:0.25px #1e5799;">MARULANDA</span>
<span class="t" style="left:283.44px;top:387.00px;font-size:8.84px;color:#2c4d7e;transform:scaleX(0.9600);-webkit-text-stroke:0.12px #2c4d7e;">1</span>
<span class="t" style="left:347.04px;top:387.00px;font-size:8.84px;color:#2c4d7e;transform:scaleX(0.9600);-webkit-text-stroke:0.12px #2c4d7e;">0</span>
<span class="t" style="left:415.94px;top:387.00px;font-size:8.84px;color:#2c4d7e;transform:scaleX(0.9600);-webkit-text-stroke:0.12px #2c4d7e;">0</span>
<span class="t" style="left:479.54px;top:387.00px;font-size:8.84px;color:#2c4d7e;transform:scaleX(0.9600);-webkit-text-stroke:0.12px #2c4d7e;">5</span>
<span class="t" style="left:548.44px;top:387.00px;font-size:8.84px;color:#2c4d7e;transform:scaleX(0.9600);-webkit-text-stroke:0.12px #2c4d7e;">6</span>
<span class="t" style="left:198.00px;top:403.00px;font-size:8.84px;color:#1e5799;transform:scaleX(0.8729);-webkit-text-stroke:0.25px #1e5799;">NEIRA</span>
<span class="t" style="left:283.44px;top:402.00px;font-size:8.84px;color:#2c4d7e;transform:scaleX(0.9600);-webkit-text-stroke:0.12px #2c4d7e;">8</span>
<span class="t" style="left:347.04px;top:403.00px;font-size:8.84px;color:#2c4d7e;transform:scaleX(0.9600);-webkit-text-stroke:0.12px #2c4d7e;">0</span>
<span class="t" style="left:415.94px;top:403.00px;font-size:8.84px;color:#2c4d7e;transform:scaleX(0.9600);-webkit-text-stroke:0.12px #2c4d7e;">7</span>
<span class="t" style="left:477.19px;top:403.00px;font-size:8.84px;color:#2c4d7e;transform:scaleX(0.9600);-webkit-text-stroke:0.12px #2c4d7e;">37</span>
<span class="t" style="left:546.09px;top:403.00px;font-size:8.84px;color:#2c4d7e;transform:scaleX(0.9600);-webkit-text-stroke:0.12px #2c4d7e;">54</span>
<span class="t" style="left:198.00px;top:419.00px;font-size:8.84px;color:#1e5799;transform:scaleX(0.8693);-webkit-text-stroke:0.25px #1e5799;">NORCASIA</span>
<span class="t" style="left:283.44px;top:419.00px;font-size:8.84px;color:#2c4d7e;transform:scaleX(0.9600);-webkit-text-stroke:0.12px #2c4d7e;">6</span>
<span class="t" style="left:347.04px;top:419.00px;font-size:8.84px;color:#2c4d7e;transform:scaleX(0.9600);-webkit-text-stroke:0.12px #2c4d7e;">0</span>
<span class="t" style="left:415.94px;top:419.00px;font-size:8.84px;color:#2c4d7e;transform:scaleX(0.9600);-webkit-text-stroke:0.12px #2c4d7e;">1</span>
<span class="t" style="left:479.54px;top:419.00px;font-size:8.84px;color:#2c4d7e;transform:scaleX(0.9600);-webkit-text-stroke:0.12px #2c4d7e;">3</span>
<span class="t" style="left:546.09px;top:419.00px;font-size:8.84px;color:#2c4d7e;transform:scaleX(0.9600);-webkit-text-stroke:0.12px #2c4d7e;">10</span>
<span class="t" style="left:198.00px;top:437.00px;font-size:8.84px;color:#1e5799;transform:scaleX(0.8350);-webkit-text-stroke:0.25px #1e5799;">PÁCORA</span>
<span class="t" style="left:283.44px;top:435.00px;font-size:8.84px;color:#2c4d7e;transform:scaleX(0.9600);-webkit-text-stroke:0.12px #2c4d7e;">4</span>
<span class="t" style="left:347.04px;top:437.00px;font-size:8.84px;color:#2c4d7e;transform:scaleX(0.9600);-webkit-text-stroke:0.12px #2c4d7e;">0</span>
<span class="t" style="left:415.94px;top:437.00px;font-size:8.84px;color:#2c4d7e;transform:scaleX(0.9600);-webkit-text-stroke:0.12px #2c4d7e;">0</span>
<span class="t" style="left:477.19px;top:437.00px;font-size:8.84px;color:#2c4d7e;transform:scaleX(0.9600);-webkit-text-stroke:0.12px #2c4d7e;">28</span>
<span class="t" style="left:546.09px;top:437.00px;font-size:8.84px;color:#2c4d7e;transform:scaleX(0.9600);-webkit-text-stroke:0.12px #2c4d7e;">33</span>
<span class="t" style="left:198.00px;top:455.00px;font-size:8.84px;color:#1e5799;transform:scaleX(0.8390);-webkit-text-stroke:0.25px #1e5799;">PALESTINA</span>
<span class="t" style="left:281.09px;top:453.00px;font-size:8.84px;color:#2c4d7e;transform:scaleX(0.9600);-webkit-text-stroke:0.12px #2c4d7e;">27</span>
<span class="t" style="left:347.04px;top:455.00px;font-size:8.84px;color:#2c4d7e;transform:scaleX(0.9600);-webkit-text-stroke:0.12px #2c4d7e;">0</span>
<span class="t" style="left:415.94px;top:455.00px;font-size:8.84px;color:#2c4d7e;transform:scaleX(0.9600);-webkit-text-stroke:0.12px #2c4d7e;">4</span>
<span class="t" style="left:477.19px;top:455.00px;font-size:8.84px;color:#2c4d7e;transform:scaleX(0.9600);-webkit-text-stroke:0.12px #2c4d7e;">19</span>
<span class="t" style="left:546.09px;top:455.00px;font-size:8.84px;color:#2c4d7e;transform:scaleX(0.9600);-webkit-text-stroke:0.12px #2c4d7e;">50</span>
<span class="t" style="left:198.00px;top:471.00px;font-size:8.84px;color:#1e5799;transform:scaleX(0.8860);-webkit-text-stroke:0.25px #1e5799;">PENSILVANIA</span>
<span class="t" style="left:283.44px;top:470.00px;font-size:8.84px;color:#2c4d7e;transform:scaleX(0.9600);-webkit-text-stroke:0.12px #2c4d7e;">4</span>
<span class="t" style="left:347.04px;top:471.00px;font-size:8.84px;color:#2c4d7e;transform:scaleX(0.9600);-webkit-text-stroke:0.12px #2c4d7e;">2</span>
<span class="t" style="left:415.94px;top:471.00px;font-size:8.84px;color:#2c4d7e;transform:scaleX(0.9600);-webkit-text-stroke:0.12px #2c4d7e;">0</span>
<span class="t" style="left:479.54px;top:471.00px;font-size:8.84px;color:#2c4d7e;transform:scaleX(0.9600);-webkit-text-stroke:0.12px #2c4d7e;">8</span>
<span class="t" style="left:546.09px;top:471.00px;font-size:8.84px;color:#2c4d7e;transform:scaleX(0.9600);-webkit-text-stroke:0.12px #2c4d7e;">12</span>
<span class="t" style="left:198.80px;top:486.00px;font-size:8.84px;color:#1e5799;transform:scaleX(0.8738);-webkit-text-stroke:0.25px #1e5799;">RIOSUCIO</span>
<span class="t" style="left:281.09px;top:486.00px;font-size:8.84px;color:#2c4d7e;transform:scaleX(0.9600);-webkit-text-stroke:0.12px #2c4d7e;">30</span>
<span class="t" style="left:347.04px;top:486.00px;font-size:8.84px;color:#2c4d7e;transform:scaleX(0.9600);-webkit-text-stroke:0.12px #2c4d7e;">3</span>
<span class="t" style="left:415.94px;top:486.00px;font-size:8.84px;color:#2c4d7e;transform:scaleX(0.9600);-webkit-text-stroke:0.12px #2c4d7e;">7</span>
<span class="t" style="left:474.81px;top:486.00px;font-size:8.84px;color:#2c4d7e;transform:scaleX(0.9600);-webkit-text-stroke:0.12px #2c4d7e;">232</span>
<span class="t" style="left:543.71px;top:486.00px;font-size:8.84px;color:#2c4d7e;transform:scaleX(0.9600);-webkit-text-stroke:0.12px #2c4d7e;">270</span>
<span class="t" style="left:198.00px;top:502.00px;font-size:8.84px;color:#1e5799;transform:scaleX(0.8546);-webkit-text-stroke:0.25px #1e5799;">RISARALDA</span>
<span class="t" style="left:281.09px;top:502.00px;font-size:8.84px;color:#2c4d7e;transform:scaleX(0.9600);-webkit-text-stroke:0.12px #2c4d7e;">23</span>
<span class="t" style="left:347.04px;top:502.00px;font-size:8.84px;color:#2c4d7e;transform:scaleX(0.9600);-webkit-text-stroke:0.12px #2c4d7e;">0</span>
<span class="t" style="left:415.94px;top:502.00px;font-size:8.84px;color:#2c4d7e;transform:scaleX(0.9600);-webkit-text-stroke:0.12px #2c4d7e;">0</span>
<span class="t" style="left:479.54px;top:502.00px;font-size:8.84px;color:#2c4d7e;transform:scaleX(0.9600);-webkit-text-stroke:0.12px #2c4d7e;">6</span>
<span class="t" style="left:546.09px;top:502.00px;font-size:8.84px;color:#2c4d7e;transform:scaleX(0.9600);-webkit-text-stroke:0.12px #2c4d7e;">29</span>
<span class="t" style="left:198.00px;top:519.00px;font-size:8.84px;color:#1e5799;transform:scaleX(0.8998);-webkit-text-stroke:0.25px #1e5799;">SALAMINA</span>
<span class="t" style="left:281.09px;top:516.00px;font-size:8.84px;color:#2c4d7e;transform:scaleX(0.9600);-webkit-text-stroke:0.12px #2c4d7e;">17</span>
<span class="t" style="left:347.04px;top:519.00px;font-size:8.84px;color:#2c4d7e;transform:scaleX(0.9600);-webkit-text-stroke:0.12px #2c4d7e;">1</span>
<span class="t" style="left:415.94px;top:519.00px;font-size:8.84px;color:#2c4d7e;transform:scaleX(0.9600);-webkit-text-stroke:0.12px #2c4d7e;">2</span>
<span class="t" style="left:477.19px;top:519.00px;font-size:8.84px;color:#2c4d7e;transform:scaleX(0.9600);-webkit-text-stroke:0.12px #2c4d7e;">38</span>
<span class="t" style="left:546.09px;top:519.00px;font-size:8.84px;color:#2c4d7e;transform:scaleX(0.9600);-webkit-text-stroke:0.12px #2c4d7e;">57</span>
<span class="t" style="left:198.00px;top:535.00px;font-size:8.84px;color:#1e5799;transform:scaleX(0.9224);-webkit-text-stroke:0.25px #1e5799;">SAMANÁ</span>
<span class="t" style="left:281.09px;top:533.00px;font-size:8.84px;color:#2c4d7e;transform:scaleX(0.9600);-webkit-text-stroke:0.12px #2c4d7e;">21</span>
<span class="t" style="left:347.04px;top:535.00px;font-size:8.84px;color:#2c4d7e;transform:scaleX(0.9600);-webkit-text-stroke:0.12px #2c4d7e;">2</span>
<span class="t" style="left:415.94px;top:535.00px;font-size:8.84px;color:#2c4d7e;transform:scaleX(0.9600);-webkit-text-stroke:0.12px #2c4d7e;">1</span>
<span class="t" style="left:479.54px;top:535.00px;font-size:8.84px;color:#2c4d7e;transform:scaleX(0.9600);-webkit-text-stroke:0.12px #2c4d7e;">9</span>
<span class="t" style="left:546.09px;top:535.00px;font-size:8.84px;color:#2c4d7e;transform:scaleX(0.9600);-webkit-text-stroke:0.12px #2c4d7e;">31</span>
<span class="t" style="left:198.00px;top:551.00px;font-size:8.84px;color:#1e5799;transform:scaleX(0.8011);-webkit-text-stroke:0.25px #1e5799;">SAN JOSÉ</span>
<span class="t" style="left:283.44px;top:550.00px;font-size:8.84px;color:#2c4d7e;transform:scaleX(0.9600);-webkit-text-stroke:0.12px #2c4d7e;">8</span>
<span class="t" style="left:347.04px;top:551.00px;font-size:8.84px;color:#2c4d7e;transform:scaleX(0.9600);-webkit-text-stroke:0.12px #2c4d7e;">0</span>
<span class="t" style="left:415.94px;top:551.00px;font-size:8.84px;color:#2c4d7e;transform:scaleX(0.9600);-webkit-text-stroke:0.12px #2c4d7e;">1</span>
<span class="t" style="left:479.54px;top:551.00px;font-size:8.84px;color:#2c4d7e;transform:scaleX(0.9600);-webkit-text-stroke:0.12px #2c4d7e;">7</span>
<span class="t" style="left:546.09px;top:551.00px;font-size:8.84px;color:#2c4d7e;transform:scaleX(0.9600);-webkit-text-stroke:0.12px #2c4d7e;">16</span>
<span class="t" style="left:198.00px;top:568.00px;font-size:8.84px;color:#1e5799;transform:scaleX(0.8627);-webkit-text-stroke:0.25px #1e5799;">SUPÍA</span>
<span class="t" style="left:278.71px;top:566.00px;font-size:8.84px;color:#2c4d7e;transform:scaleX(0.9600);-webkit-text-stroke:0.12px #2c4d7e;">100</span>
<span class="t" style="left:347.04px;top:568.00px;font-size:8.84px;color:#2c4d7e;transform:scaleX(0.9600);-webkit-text-stroke:0.12px #2c4d7e;">4</span>
<span class="t" style="left:413.59px;top:568.00px;font-size:8.84px;color:#2c4d7e;transform:scaleX(0.9600);-webkit-text-stroke:0.12px #2c4d7e;">10</span>
<span class="t" style="left:474.81px;top:568.00px;font-size:8.84px;color:#2c4d7e;transform:scaleX(0.9600);-webkit-text-stroke:0.12px #2c4d7e;">263</span>
<span class="t" style="left:543.71px;top:568.00px;font-size:8.84px;color:#2c4d7e;transform:scaleX(0.9600);-webkit-text-stroke:0.12px #2c4d7e;">375</span>
<span class="t" style="left:198.00px;top:583.00px;font-size:8.84px;color:#1e5799;transform:scaleX(0.8911);-webkit-text-stroke:0.25px #1e5799;">VICTORIA</span>
<span class="t" style="left:283.44px;top:582.00px;font-size:8.84px;color:#2c4d7e;transform:scaleX(0.9600);-webkit-text-stroke:0.12px #2c4d7e;">2</span>
<span class="t" style="left:347.04px;top:583.00px;font-size:8.84px;color:#2c4d7e;transform:scaleX(0.9600);-webkit-text-stroke:0.12px #2c4d7e;">0</span>
<span class="t" style="left:415.94px;top:583.00px;font-size:8.84px;color:#2c4d7e;transform:scaleX(0.9600);-webkit-text-stroke:0.12px #2c4d7e;">1</span>
<span class="t" style="left:477.19px;top:583.00px;font-size:8.84px;color:#2c4d7e;transform:scaleX(0.9600);-webkit-text-stroke:0.12px #2c4d7e;">19</span>
<span class="t" style="left:546.09px;top:583.00px;font-size:8.84px;color:#2c4d7e;transform:scaleX(0.9600);-webkit-text-stroke:0.12px #2c4d7e;">22</span>
<span class="t" style="left:198.00px;top:599.00px;font-size:8.84px;color:#1e5799;transform:scaleX(0.9082);-webkit-text-stroke:0.25px #1e5799;">VILLAMARÍA</span>
<span class="t" style="left:278.71px;top:599.00px;font-size:8.84px;color:#2c4d7e;transform:scaleX(0.9600);-webkit-text-stroke:0.12px #2c4d7e;">485</span>
<span class="t" style="left:344.69px;top:599.00px;font-size:8.84px;color:#2c4d7e;transform:scaleX(0.9600);-webkit-text-stroke:0.12px #2c4d7e;">14</span>
<span class="t" style="left:413.59px;top:599.00px;font-size:8.84px;color:#2c4d7e;transform:scaleX(0.9600);-webkit-text-stroke:0.12px #2c4d7e;">18</span>
<span class="t" style="left:474.81px;top:599.00px;font-size:8.84px;color:#2c4d7e;transform:scaleX(0.9600);-webkit-text-stroke:0.12px #2c4d7e;">166</span>
<span class="t" style="left:543.71px;top:599.00px;font-size:8.84px;color:#2c4d7e;transform:scaleX(0.9600);-webkit-text-stroke:0.12px #2c4d7e;">670</span>
<span class="t" style="left:198.00px;top:615.00px;font-size:8.84px;color:#1e5799;transform:scaleX(0.8652);-webkit-text-stroke:0.25px #1e5799;">VITERBO</span>
<span class="t" style="left:283.44px;top:615.00px;font-size:8.84px;color:#2c4d7e;transform:scaleX(0.9600);-webkit-text-stroke:0.12px #2c4d7e;">8</span>
<span class="t" style="left:347.04px;top:615.00px;font-size:8.84px;color:#2c4d7e;transform:scaleX(0.9600);-webkit-text-stroke:0.12px #2c4d7e;">1</span>
<span class="t" style="left:415.94px;top:615.00px;font-size:8.84px;color:#2c4d7e;transform:scaleX(0.9600);-webkit-text-stroke:0.12px #2c4d7e;">3</span>
<span class="t" style="left:477.19px;top:615.00px;font-size:8.84px;color:#2c4d7e;transform:scaleX(0.9600);-webkit-text-stroke:0.12px #2c4d7e;">68</span>
<span class="t" style="left:546.09px;top:615.00px;font-size:8.84px;color:#2c4d7e;transform:scaleX(0.9600);-webkit-text-stroke:0.12px #2c4d7e;">82</span>
<div class="a" style="left:179.00px;top:627.60px;width:84.00px;height:17.30px;background:#3e88d0;"></div>
<div class="a" style="left:263.00px;top:627.60px;width:129.30px;height:17.30px;background:#5b9bd6;"></div>
<div class="a" style="left:262.60px;top:627.60px;width:0.90px;height:17.30px;background:#4a82bd;"></div>
<div class="a" style="left:308.90px;top:627.60px;width:0.90px;height:17.30px;background:#4a82bd;"></div>
<span class="t" style="left:192.40px;top:632.00px;font-size:12.46px;color:#ffffff;transform:scaleX(1.0224);-webkit-text-stroke:0.55px #fff;">TOTALES</span>
<span class="t" style="left:273.20px;top:632.00px;font-size:12.17px;color:#1b447c;transform:scaleX(0.8788);font-weight:400;-webkit-text-stroke:0.45px #1b447c;">6.440</span>
<span class="t" style="left:340.80px;top:632.00px;font-size:12.17px;color:#1b447c;transform:scaleX(0.8657);font-weight:400;-webkit-text-stroke:0.45px #1b447c;">214</span>
<div class="a" style="left:501.40px;top:629.80px;width:84.40px;height:16.40px;background:#4a87c7;"></div>
<span class="t" style="left:508.00px;top:633.00px;font-size:12.32px;color:#ffffff;transform:scaleX(1.1204);-webkit-text-stroke:0.45px #fff;">25-10-2020</span>
</body></html>
